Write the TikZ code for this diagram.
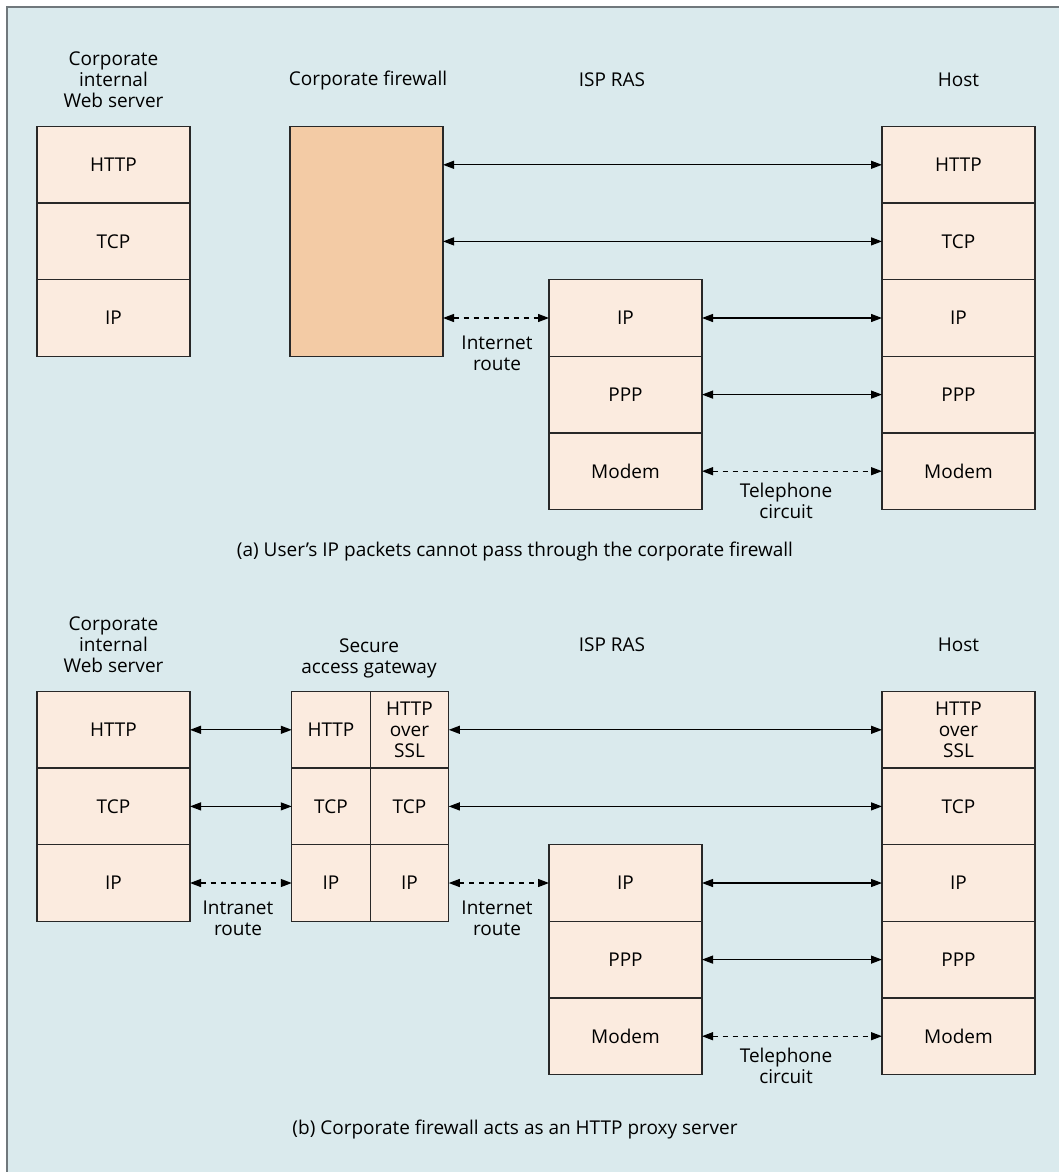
\documentclass[tikz,border=0pt]{standalone}
\usepackage{fontspec}
\setmainfont{Open Sans}
\usetikzlibrary{positioning,calc}
\usetikzlibrary{arrows.meta}
\definecolor{PanelBlue}{RGB}{218,234,237}
\definecolor{LayerPeach}{RGB}{251,235,223}
\definecolor{WallTan}{RGB}{243,203,165}
\definecolor{FrameGray}{RGB}{112,120,124}
\definecolor{InkGray}{RGB}{40,40,40}
\newcommand\lfont{\fontsize{19}{21}\selectfont}
\tikzset{
  layer/.style={draw=InkGray,fill=LayerPeach,line width=1.4pt,minimum width=153pt,
    minimum height=76.6pt,inner sep=0pt,outer sep=0pt,align=center,font=\lfont},
  half/.style={layer,minimum width=78.5pt},
  head/.style={align=center,font=\lfont,inner sep=0pt},
}
\tikzset{link/.style={draw=black,line width=1.2pt,{Triangle[length=11pt,width=8pt]}-{Triangle[length=11pt,width=8pt]}}, route/.style={link,dash pattern=on 5pt off 5pt}}

\begin{document}
\begin{tikzpicture}[x=1pt,y=-1pt]
\useasboundingbox (0,0) rectangle (1059,1172);
\fill[white] (0,0) rectangle (1059,1172);
\fill[PanelBlue] (7,7) rectangle (1059,1172);
\draw[FrameGray,line width=2pt] (7,1172) -- (7,7) -- (1059,7);
% (a) firewall blocks IP
\node[head] (awsname) at (113.5,80) {Corporate\\internal\\Web server};
\node[head] (afwname) at (368,81) {Corporate firewall};
\node[head] (arasname) at (612,80) {ISP RAS};
\node[head] (ahostname) at (958.5,80) {Host};
\node[layer] (aws1) at (113.5,164.8) {HTTP};
\node[layer] (aws2) at (113.5,241.4) {TCP};
\node[layer] (aws3) at (113.5,318.0) {IP};
\node[layer,fill=WallTan,minimum height=229.8pt] (afw) at (366.5,241.4) {};
\node[layer] (aras3) at (625.5,318.0) {IP};
\node[layer] (aras4) at (625.5,394.6) {PPP};
\node[layer] (aras5) at (625.5,471.2) {Modem};
\node[layer] (ahost1) at (958.5,164.8) {HTTP};
\node[layer] (ahost2) at (958.5,241.4) {TCP};
\node[layer] (ahost3) at (958.5,318.0) {IP};
\node[layer] (ahost4) at (958.5,394.6) {PPP};
\node[layer] (ahost5) at (958.5,471.2) {Modem};
\draw[link] (afw.east |- ahost1.west) -- (ahost1.west);
\draw[link] (afw.east |- ahost2.west) -- (ahost2.west);
\draw[route] (afw.east |- aras3.west) -- (aras3.west);
\draw[link] (aras3.east) -- (ahost3.west);
\draw[link] (aras4.east) -- (ahost4.west);
\draw[route] (aras5.east) -- (ahost5.west);
\node[head] (anet) at (497,353) {Internet\\route};
\node[head] (atel) at (786,501) {Telephone\\circuit};
\node[head] (acap) at (515,552) {(a) User's IP packets cannot pass through the corporate firewall};
% (b) proxy through the gateway
\node[head] (bwsname) at (113.5,645) {Corporate\\internal\\Web server};
\node[head] (bgwname) at (369,658) {Secure\\access gateway};
\node[head] (brasname) at (612,645) {ISP RAS};
\node[head] (bhostname) at (958.5,645) {Host};
\node[layer] (bws1) at (113.5,729.8) {HTTP};
\node[layer] (bws2) at (113.5,806.4) {TCP};
\node[layer] (bws3) at (113.5,883.0) {IP};
\node[half] (bgl1) at (331,729.8) {HTTP};
\node[half] (bgl2) at (331,806.4) {TCP};
\node[half] (bgl3) at (331,883.0) {IP};
\node[half] (bgr1) at (409.5,729.8) {HTTP\\over\\SSL};
\node[half] (bgr2) at (409.5,806.4) {TCP};
\node[half] (bgr3) at (409.5,883.0) {IP};
\node[layer] (bras3) at (625.5,883.0) {IP};
\node[layer] (bras4) at (625.5,959.6) {PPP};
\node[layer] (bras5) at (625.5,1036.2) {Modem};
\node[layer] (bhost1) at (958.5,729.8) {HTTP\\over\\SSL};
\node[layer] (bhost2) at (958.5,806.4) {TCP};
\node[layer] (bhost3) at (958.5,883.0) {IP};
\node[layer] (bhost4) at (958.5,959.6) {PPP};
\node[layer] (bhost5) at (958.5,1036.2) {Modem};
\draw[link] (bws1.east) -- (bgl1.west);
\draw[link] (bws2.east) -- (bgl2.west);
\draw[route] (bws3.east) -- (bgl3.west);
\draw[link] (bgr1.east) -- (bhost1.west);
\draw[link] (bgr2.east) -- (bhost2.west);
\draw[route] (bgr3.east) -- (bras3.west);
\draw[link] (bras3.east) -- (bhost3.west);
\draw[link] (bras4.east) -- (bhost4.west);
\draw[route] (bras5.east) -- (bhost5.west);
\node[head] (bintra) at (238,918) {Intranet\\route};
\node[head] (bnet) at (497,918) {Internet\\route};
\node[head] (btel) at (786,1066) {Telephone\\circuit};
\node[head] (bcap) at (515,1129) {(b) Corporate firewall acts as an HTTP proxy server};
\end{tikzpicture}
\end{document}
